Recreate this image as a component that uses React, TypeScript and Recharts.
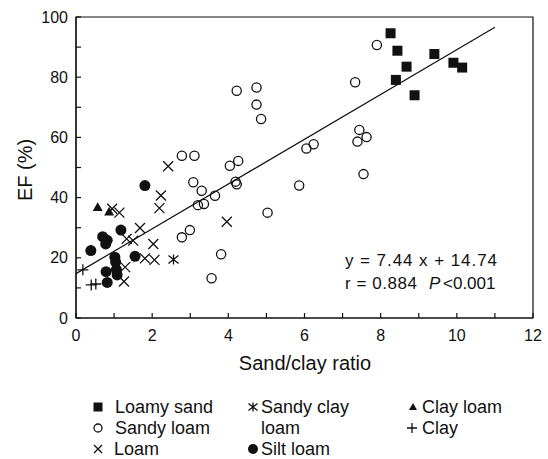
import {
  ReferenceArea,
  ReferenceLine,
  Scatter,
  ScatterChart,
  XAxis,
  YAxis,
} from "recharts";

// values: [sand/clay ratio, EF %]
const loamySand = [
  [8.26, 94.6], [8.44, 88.8], [8.68, 83.5], [8.4, 79.1],
  [9.41, 87.7], [9.91, 84.8], [10.14, 83.2], [8.89, 74.0],
];
const sandyLoam = [
  [4.22, 75.5], [4.74, 76.6], [4.74, 70.9], [4.86, 66.1], [2.78, 53.9],
  [3.11, 53.9], [4.04, 50.6], [4.26, 52.2], [6.05, 56.3], [6.24, 57.7],
  [7.9, 90.7], [7.33, 78.3], [7.44, 62.5], [7.39, 58.6], [7.63, 60.1],
  [7.55, 47.8], [5.86, 44.0], [3.08, 45.1], [3.3, 42.3], [3.65, 40.6],
  [3.2, 37.5], [3.36, 37.9], [4.19, 45.3], [4.22, 44.4], [5.03, 35.0],
  [2.78, 26.8], [2.99, 29.2], [3.81, 21.2], [3.56, 13.2],
];
const loam = [
  [2.42, 50.4], [2.23, 40.7], [2.19, 36.5], [3.96, 32.0], [0.95, 36.3],
  [1.14, 35.0], [1.68, 29.9], [1.33, 26.3], [1.5, 25.7], [2.03, 24.6],
  [1.81, 19.8], [2.06, 19.3], [1.29, 16.9], [1.26, 12.1],
];
const sandyClayLoam = [[2.56, 19.4]];
const siltLoam = [
  [1.81, 44.0], [0.39, 22.4], [0.7, 27.0], [0.82, 25.8], [0.78, 24.6],
  [1.18, 29.2], [1.02, 20.2], [1.04, 18.6], [1.55, 20.5], [0.79, 15.4],
  [1.06, 16.1], [1.08, 14.3], [0.82, 11.8],
];
const clayLoam = [[0.57, 36.8], [0.87, 35.3]];
const clay = [[0.18, 16.0], [0.4, 11.0], [0.52, 11.3]];

// fitted line y = 7.44x + 14.74, drawn from x = 0 to x = 11
const fitLine = [
  { x: 0, y: 14.74 },
  { x: 11, y: 96.58 },
];

const xTicks = [0, 1, 2, 3, 4, 5, 6, 7, 8, 9, 10, 11, 12];
const yTicks = [0, 10, 20, 30, 40, 50, 60, 70, 80, 90, 100];

const INK = "#111";
const FONT = "'Liberation Sans', Arial, Helvetica, sans-serif";

const toPoints = (rows: number[][]) => rows.map(([x, y]) => ({ x, y }));

const Square = ({ cx, cy, s = 5 }: any) => (
  <rect x={cx - s} y={cy - s} width={s * 2} height={s * 2} fill={INK} />
);
const OpenCircle = ({ cx, cy, r = 4.6 }: any) => (
  <circle cx={cx} cy={cy} r={r} fill="none" stroke={INK} strokeWidth={1.3} />
);
const Cross = ({ cx, cy, s = 5 }: any) => (
  <path
    d={`M${cx - s},${cy - s}L${cx + s},${cy + s}M${cx - s},${cy + s}L${cx + s},${cy - s}`}
    stroke={INK}
    strokeWidth={1.3}
    fill="none"
  />
);
const Star = ({ cx, cy, s = 5 }: any) => (
  <path
    d={`M${cx - s},${cy - s * 0.8}L${cx + s},${cy + s * 0.8}M${cx - s},${cy + s * 0.8}L${cx + s},${cy - s * 0.8}M${cx},${cy - s}L${cx},${cy + s}`}
    stroke={INK}
    strokeWidth={1.3}
    fill="none"
  />
);
const Dot = ({ cx, cy, r = 5.5 }: any) => (
  <circle cx={cx} cy={cy} r={r} fill={INK} />
);
const Triangle = ({ cx, cy, s = 5 }: any) => (
  <path
    d={`M${cx},${cy - s}L${cx + s},${cy + s * 0.75}L${cx - s},${cy + s * 0.75}Z`}
    fill={INK}
  />
);
const Plus = ({ cx, cy, s = 5.5 }: any) => (
  <path
    d={`M${cx - s},${cy}L${cx + s},${cy}M${cx},${cy - s}L${cx},${cy + s}`}
    stroke={INK}
    strokeWidth={1.3}
    fill="none"
  />
);

const series = [
  { name: "Sandy loam", rows: sandyLoam, shape: OpenCircle },
  { name: "Loam", rows: loam, shape: Cross },
  { name: "Sandy clay loam", rows: sandyClayLoam, shape: Star },
  { name: "Clay loam", rows: clayLoam, shape: Triangle },
  { name: "Clay", rows: clay, shape: Plus },
  { name: "Silt loam", rows: siltLoam, shape: Dot },
  { name: "Loamy sand", rows: loamySand, shape: Square },
];

// legend: label lines, marker, column x, row
const legendItems = [
  { lines: ["Loamy sand"], Marker: Square, mx: 98, tx: 115, row: 0, size: 4.5 },
  { lines: ["Sandy loam"], Marker: OpenCircle, mx: 98, tx: 115, row: 1, size: 4 },
  { lines: ["Loam"], Marker: Cross, mx: 98, tx: 114, row: 2, size: 4 },
  { lines: ["Sandy clay", "loam"], Marker: Star, mx: 253, tx: 261, row: 0, size: 4.5 },
  { lines: ["Silt loam"], Marker: Dot, mx: 253, tx: 261, row: 2, size: 5 },
  { lines: ["Clay loam"], Marker: Triangle, mx: 413, tx: 422, row: 0, size: 4 },
  { lines: ["Clay"], Marker: Plus, mx: 412, tx: 422, row: 1, size: 5 },
];
const legendRows = [407, 428, 449];

export default function App() {
  return (
    <div style={{ position: "absolute", left: 0, top: 0, width: 548, height: 459, background: "#fff" }}>
      <ScatterChart
        width={548}
        height={459}
        margin={{ top: 17, right: 15, bottom: 0, left: 0 }}
        style={{ fontFamily: FONT }}
      >
        <XAxis
          type="number"
          dataKey="x"
          domain={[0, 12]}
          ticks={xTicks}
          interval={0}
          tickFormatter={(v) => (v % 2 === 0 ? String(v) : "")}
          height={141}
          tickSize={-5}
          tickMargin={17}
          stroke={INK}
          strokeWidth={1.2}
          tick={{ fill: INK, fontSize: 16 }}
        />
        <YAxis
          type="number"
          dataKey="y"
          domain={[0, 100]}
          ticks={yTicks}
          interval={0}
          tickFormatter={(v) => (v % 20 === 0 ? String(v) : "")}
          width={76}
          tickSize={-5}
          tickMargin={13}
          stroke={INK}
          strokeWidth={1.2}
          tick={{ fill: INK, fontSize: 16 }}
        />
        <ReferenceArea
          x1={0}
          x2={12}
          y1={0}
          y2={100}
          fill="none"
          stroke={INK}
          strokeWidth={1.2}
          fillOpacity={0}
          ifOverflow="visible"
        />
        <ReferenceLine
          segment={fitLine}
          stroke={INK}
          strokeWidth={1.2}
          ifOverflow="visible"
        />
        {series.map((s) => {
          const Shape = s.shape;
          return (
            <Scatter
              key={s.name}
              name={s.name}
              data={toPoints(s.rows)}
              isAnimationActive={false}
              shape={(p: any) => <Shape cx={p.cx} cy={p.cy} />}
            />
          );
        })}
      </ScatterChart>

      <svg
        width={548}
        height={459}
        style={{ position: "absolute", left: 0, top: 0, pointerEvents: "none", fontFamily: FONT }}
      >
        <text
          x={32}
          y={170}
          transform="rotate(-90, 32, 170)"
          textAnchor="middle"
          fontSize={20}
          fill={INK}
        >
          EF (%)
        </text>
        <text x={305} y={370} textAnchor="middle" fontSize={20} fill={INK}>
          Sand/clay ratio
        </text>

        <text x={345} y={266} fontSize={17} fill={INK} textLength={152} lengthAdjust="spacing">
          y = 7.44 x + 14.74
        </text>
        <text x={345} y={289} fontSize={17} fill={INK} textLength={72} lengthAdjust="spacing">
          r = 0.884
        </text>
        <text x={429} y={289} fontSize={17} fill={INK} fontStyle="italic">
          P
        </text>
        <text x={443} y={289} fontSize={17} fill={INK}>
          {"<0.001"}
        </text>

        {legendItems.map((it) => {
          const cy = legendRows[it.row];
          const M = it.Marker;
          return (
            <g key={it.lines[0]}>
              <M cx={it.mx} cy={cy} s={it.size} r={it.size} />
              {it.lines.map((line, i) => (
                <text
                  key={line}
                  x={it.tx}
                  y={legendRows[it.row + i] + 6}
                  fontSize={18}
                  fill={INK}
                >
                  {line}
                </text>
              ))}
            </g>
          );
        })}
      </svg>
    </div>
  );
}
